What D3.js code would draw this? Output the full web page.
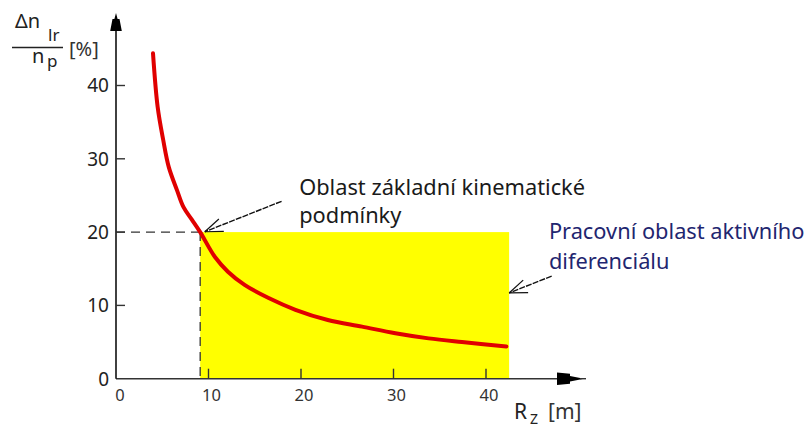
<!DOCTYPE html>
<html><head><meta charset="utf-8">
<script src="https://cdn.jsdelivr.net/npm/d3@7"></script>
<style>html,body{margin:0;padding:0;background:#fff;}svg{display:block;}</style>
</head><body>
<svg id="chart" width="808" height="428"></svg>
<script>
// ---- data ----
const rz = [4.0, 4.5, 5.1, 5.7, 6.6, 7.3, 8.2, 9.1, 10.7, 12.1, 13.9, 16.5, 19.4, 22.9, 26.6, 30.2, 33.8, 37.4, 42.2];
const dn = [44.4, 37.1, 32.6, 28.9, 25.7, 23.4, 21.7, 20.0, 16.6, 14.6, 12.8, 11.0, 9.4, 8.0, 7.1, 6.2, 5.5, 5.0, 4.4];
const xTicks = [0, 10, 20, 30, 40];
const yTicks = [0, 10, 20, 30, 40];
const kinematicLimit = {x: 9.1, y: 20};
const workRegion = {x0: 9.1, x1: 42.5, y0: 0, y1: 20};
const annoText1 = ["Oblast základní kinematické", "podmínky"];
const annoText2 = ["Pracovní oblast aktivního", "diferenciálu"];

const svg = d3.select("#chart");
const x = d3.scaleLinear().domain([0, 40]).range([116, 486]);
const y = d3.scaleLinear().domain([0, 40]).range([378.7, 85.5]);
const FONT = "'Noto Sans', 'Open Sans', sans-serif";
const AX = "#333";

// yellow working region
svg.append("rect")
  .attr("x", x(workRegion.x0)).attr("y", y(workRegion.y1))
  .attr("width", x(workRegion.x1) - x(workRegion.x0))
  .attr("height", y(workRegion.y0) - y(workRegion.y1))
  .attr("fill", "#ffff00");

// dashed guide lines
svg.append("line").attr("x1", x(0)).attr("x2", x(kinematicLimit.x))
  .attr("y1", y(kinematicLimit.y)).attr("y2", y(kinematicLimit.y))
  .attr("stroke", AX).attr("stroke-width", 1.3).attr("stroke-dasharray", "9,6");
svg.append("line").attr("x1", x(kinematicLimit.x)).attr("x2", x(kinematicLimit.x))
  .attr("y1", y(kinematicLimit.y)).attr("y2", y(0))
  .attr("stroke", AX).attr("stroke-width", 1.3).attr("stroke-dasharray", "9,6");

// axes lines
svg.append("line").attr("x1", x(0)).attr("x2", 560).attr("y1", y(0)).attr("y2", y(0))
  .attr("stroke", AX).attr("stroke-width", 1.6);
svg.append("line").attr("x1", x(0)).attr("x2", x(0)).attr("y1", y(0)).attr("y2", 28)
  .attr("stroke", "#111").attr("stroke-width", 1.6);
// arrowheads
const x0p = x(0), y0p = y(0);
svg.append("path")
  .attr("d", `M${x0p},13 L${x0p+1.6},19 L${x0p+3.5},19 L${x0p+5.8},31 L${x0p-5.8},31 L${x0p-3.5},19 L${x0p-1.6},19 Z`)
  .attr("fill", "#000");
svg.append("path")
  .attr("d", `M557,${y0p-6.3} L570,${y0p-5} L570,${y0p-2.8} L584,${y0p} L570,${y0p+2.8} L570,${y0p+5} L557,${y0p+6.3} Z`)
  .attr("fill", "#000");
svg.append("line").attr("x1", 580).attr("x2", 586).attr("y1", y0p).attr("y2", y0p)
  .attr("stroke", AX).attr("stroke-width", 1.4);

// ticks
svg.append("g").selectAll("line").data(yTicks.filter(d => d > 0)).join("line")
  .attr("x1", x(0)).attr("x2", x(0) + 9).attr("y1", d => y(d)).attr("y2", d => y(d))
  .attr("stroke", AX).attr("stroke-width", 1.4);
svg.append("g").selectAll("line").data(xTicks.filter(d => d > 0)).join("line")
  .attr("x1", d => x(d)).attr("x2", d => x(d)).attr("y1", y(0)).attr("y2", y(0) - 10)
  .attr("stroke", AX).attr("stroke-width", 1.4);

// tick labels
svg.append("g").selectAll("text").data(yTicks).join("text")
  .attr("x", x(0) - 7).attr("y", d => y(d)).attr("dy", "0.36em")
  .attr("text-anchor", "end").attr("font-family", FONT).attr("font-size", 19)
  .attr("fill", "#222").text(d => d);
svg.append("g").selectAll("text").data(xTicks).join("text")
  .attr("x", d => x(d) + (d === 0 ? 4 : 3)).attr("y", y(0) + 16).attr("dy", "0.36em")
  .attr("text-anchor", "middle").attr("font-family", FONT).attr("font-size", 16.5)
  .attr("fill", "#333").text(d => d);

// curve
const pts = rz.map((v, i) => [v, dn[i]]);
svg.append("path").datum(pts)
  .attr("d", d3.line().x(d => x(d[0])).y(d => y(d[1])).curve(d3.curveCatmullRom.alpha(0.5)))
  .attr("fill", "none").attr("stroke", "#e00000").attr("stroke-width", 4)
  .attr("stroke-linecap", "round").attr("stroke-linejoin", "round");

// annotation arrows
function arrow(from, to) {
  const [fx, fy] = [x(from[0]), y(from[1])];
  const [tx, ty] = [x(to[0]), y(to[1])];
  svg.append("line").attr("x1", fx).attr("y1", fy).attr("x2", tx).attr("y2", ty)
    .attr("stroke", "#111").attr("stroke-width", 1.4).attr("stroke-dasharray", "6,1.2");
  const ang = Math.atan2(fy - ty, fx - tx);
  [-0.36, 0.36].forEach(a => {
    svg.append("line").attr("x1", tx).attr("y1", ty)
      .attr("x2", tx + 19 * Math.cos(ang + a)).attr("y2", ty + 19 * Math.sin(ang + a))
      .attr("stroke", "#111").attr("stroke-width", 1.2);
  });
}
arrow([17.9, 24.2], [9.6, 20.05]);
arrow([47.1, 14.0], [42.5, 11.7]);

function fitText(sel, w) {
  const n = sel.node(); const cur = n.getComputedTextLength();
  const fs = parseFloat(sel.attr("font-size"));
  sel.attr("font-size", fs * w / cur);
}
// annotation text
const t1 = svg.append("text").attr("x", x(19.8)).attr("y", y(25.1))
  .attr("font-family", FONT).attr("font-size", 20).attr("fill", "#1a1a1a").text(annoText1[0]);
fitText(t1, 286);
svg.append("text").attr("x", x(19.8)).attr("y", y(21.2))
  .attr("font-family", FONT).attr("font-size", t1.attr("font-size")).attr("fill", "#1a1a1a").text(annoText1[1]);
svg.append("text").attr("x", x(46.8)).attr("y", y(19.1))
  .attr("font-family", FONT).attr("font-size", t1.attr("font-size")).attr("fill", "#1f2670").text(annoText2[0]);
svg.append("text").attr("x", x(46.8)).attr("y", y(15.0))
  .attr("font-family", FONT).attr("font-size", t1.attr("font-size")).attr("fill", "#1f2670").text(annoText2[1]);

// y axis label: Δn_lr / n_p [%]
const yl = svg.append("g").attr("font-family", FONT).attr("fill", "#222");
yl.append("text").attr("x", 15).attr("y", 28).attr("font-size", 20).text("Δn");
yl.append("text").attr("x", 48).attr("y", 41).attr("font-size", 17).text("lr");
yl.append("line").attr("x1", 12).attr("x2", 63).attr("y1", 47.5).attr("y2", 47.5)
  .attr("stroke", "#222").attr("stroke-width", 1.3);
yl.append("text").attr("x", 32).attr("y", 63).attr("font-size", 20).text("n");
yl.append("text").attr("x", 47).attr("y", 67).attr("font-size", 17).text("p");
yl.append("text").attr("x", 69).attr("y", 56).attr("font-size", 20).attr("fill", "#333").text("[%]");

// x axis label: R_z [m]
const xl = svg.append("g").attr("font-family", FONT).attr("fill", "#222");
xl.append("text").attr("x", 514).attr("y", 419).attr("font-size", 21).text("R");
xl.append("text").attr("x", 530).attr("y", 424).attr("font-size", 14).text("Z");
xl.append("text").attr("x", 548).attr("y", 419).attr("font-size", 21).attr("fill", "#333").text("[m]");
</script>
</body></html>
